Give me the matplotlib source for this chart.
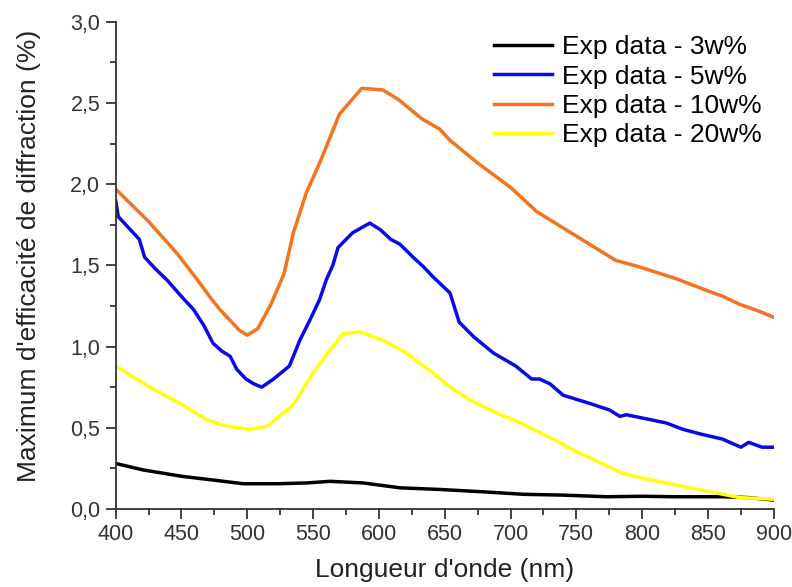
import matplotlib.pyplot as plt
import numpy as np
from matplotlib.ticker import MultipleLocator, FuncFormatter

plt.rcParams['font.family'] = ['Liberation Sans', 'DejaVu Sans']

# data (wavelength nm, efficiency %)
wl_3 = [400, 421, 451, 472, 497, 522, 545, 563, 588, 616, 646, 680, 710, 740, 773, 800, 824, 861, 880, 900]
eff_3 = [0.28, 0.24, 0.20, 0.18, 0.155, 0.155, 0.16, 0.17, 0.16, 0.13, 0.12, 0.105, 0.09, 0.085, 0.075, 0.078, 0.075, 0.075, 0.07, 0.055]

wl_5 = [400, 402, 410, 418, 422, 430, 439, 452, 459, 467, 474, 481, 487, 492, 499, 505, 511, 520, 532, 540, 548, 555, 560,
        565, 569, 580, 593, 601, 609, 616, 626, 634, 641, 654, 661, 672, 687, 704, 716, 722, 730, 740, 760, 775, 783, 788,
        800, 818, 831, 845, 861, 875, 881, 891, 900]
eff_5 = [1.90, 1.80, 1.73, 1.66, 1.55, 1.48, 1.41, 1.29, 1.23, 1.13, 1.02, 0.97, 0.94, 0.86, 0.80, 0.77, 0.75, 0.80, 0.88, 1.04, 1.17, 1.29, 1.41,
         1.50, 1.61, 1.70, 1.76, 1.72, 1.66, 1.63, 1.55, 1.49, 1.43, 1.33, 1.15, 1.06, 0.96, 0.88, 0.80, 0.80, 0.77, 0.70, 0.65, 0.61, 0.57, 0.58,
         0.56, 0.53, 0.49, 0.46, 0.43, 0.38, 0.41, 0.38, 0.38]

wl_10 = [400, 425, 447, 464, 473, 479, 494, 500, 508, 518, 528, 535, 545, 555, 570, 587, 603, 615, 633, 646, 654, 675, 700,
         720, 750, 780, 798, 825, 854, 861, 874, 888, 900]
eff_10 = [1.97, 1.77, 1.57, 1.39, 1.29, 1.23, 1.10, 1.07, 1.11, 1.26, 1.45, 1.70, 1.95, 2.13, 2.43, 2.59, 2.58, 2.52, 2.40, 2.34, 2.27, 2.13, 1.98,
          1.83, 1.68, 1.53, 1.49, 1.42, 1.33, 1.31, 1.26, 1.22, 1.18]

wl_20 = [400, 426, 449, 469, 484, 502, 515, 535, 550, 563, 573, 585, 603, 621, 639, 654, 672, 690, 710, 730, 748, 767, 785,
         800, 818, 849, 874, 900]
eff_20 = [0.88, 0.75, 0.65, 0.55, 0.51, 0.49, 0.51, 0.64, 0.84, 0.98, 1.08, 1.09, 1.04, 0.96, 0.85, 0.75, 0.66, 0.59, 0.52, 0.44, 0.36, 0.29, 0.22,
          0.19, 0.16, 0.11, 0.07, 0.06]

labels = ['Exp data - 3w%', 'Exp data - 5w%', 'Exp data - 10w%', 'Exp data - 20w%']
colors = ['#000000', '#0a0ae6', '#f5731e', '#ffff10']

fig = plt.figure(figsize=(7.92, 5.87), dpi=100)
ax = fig.add_axes([0.146, 0.133, 0.831, 0.830])

for wl, eff, lab, c in zip([wl_3, wl_5, wl_10, wl_20], [eff_3, eff_5, eff_10, eff_20], labels, colors):
    ax.plot(wl, eff, color=c, lw=2.5, label=lab)

ax.set_xlim(400, 900)
ax.set_ylim(0, 3.0)
ax.xaxis.set_major_locator(MultipleLocator(50))
ax.xaxis.set_minor_locator(MultipleLocator(25))
ax.yaxis.set_major_locator(MultipleLocator(0.5))
ax.yaxis.set_minor_locator(MultipleLocator(0.25))
ax.yaxis.set_major_formatter(FuncFormatter(lambda v, p: ('%.1f' % v).replace('.', ',')))

for s in ['top', 'right']:
    ax.spines[s].set_visible(False)
for s in ['left', 'bottom']:
    ax.spines[s].set_linewidth(1.3)
    ax.spines[s].set_color('#333333')

ax.tick_params(which='major', direction='out', length=7, width=1.3, pad=4, labelsize=15.5,
               colors='#333333', labelcolor='#333333')
ax.tick_params(which='minor', direction='out', length=4, width=1.3, colors='#333333')

ax.set_xlabel("Longueur d'onde (nm)", fontsize=19, color='#222222', labelpad=9)
ax.set_ylabel("Maximum d'efficacité de diffraction (%)", fontsize=19, color='#222222')
ax.yaxis.set_label_coords(-0.113, 0.52)

ax.legend(loc='upper right', bbox_to_anchor=(1.01, 1.01), frameon=False, fontsize=19,
          handlelength=2.2, handletextpad=0.4, labelspacing=0.2, borderpad=0.2)

fig.savefig('out.png', dpi=100)
